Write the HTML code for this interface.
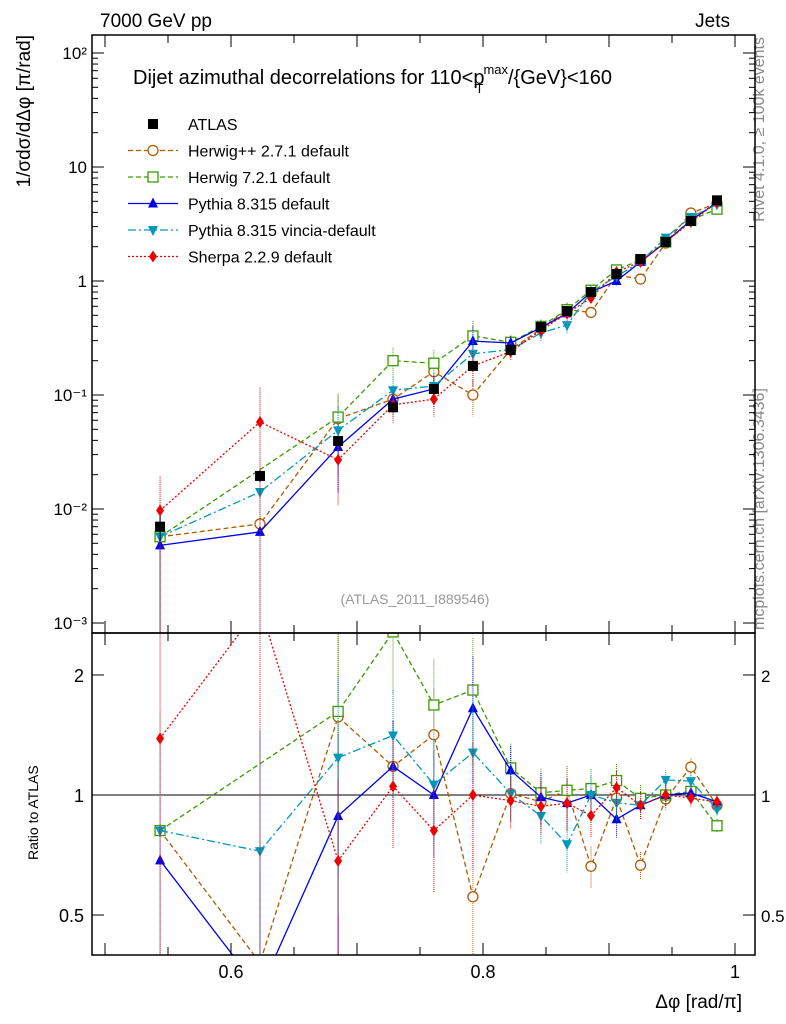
<!DOCTYPE html>
<html><head><meta charset="utf-8">
<style>
html,body{margin:0;padding:0;background:#fff;overflow:hidden;width:786px;height:1024px;}
svg{display:block;font-family:"Liberation Sans",Arial,sans-serif;}
</style></head>
<body>
<svg id="chart" width="786" height="1024" viewBox="0 0 786 1024" xmlns="http://www.w3.org/2000/svg" overflow="hidden">
<defs>
<clipPath id="clipMain"><rect x="92" y="35" width="663" height="598"/></clipPath>
<clipPath id="clipRatio"><rect x="92" y="633" width="663" height="322"/></clipPath>
</defs>
<text x="100" y="27" font-size="19">7000 GeV pp</text>
<text x="730" y="27" font-size="19" text-anchor="end">Jets</text>
<text transform="translate(764,37) rotate(-90)" font-size="16" fill="#888" text-anchor="end">Rivet 4.1.0, ≥ 100k events</text>
<text transform="translate(764,630) rotate(-90)" font-size="16" fill="#888">mcplots.cern.ch [arXiv:1306.3436]</text>
<g id="main"></g>
<g id="ratio"></g>
<g id="frames"></g>
</svg>
<script>
const xVals = [0.5437,0.623,0.685,0.7286,0.761,0.792,0.822,0.846,0.8667,0.8857,0.906,0.925,0.945,0.965,0.9857];
const atlas = [0.0070,0.0195,0.0395,0.078,0.113,0.18,0.248,0.395,0.545,0.80,1.15,1.56,2.2,3.36,5.1];
const atlasErr = [0.25,0.12,0.08,0.08,0.08,0.07,0.06,0.06,0.05,0.05,0.05,0.05,0.05,0.05,0.05];
const herwigpp = [0.0057,0.0074,0.062,0.092,0.16,0.10,0.25,0.38,0.56,0.53,1.13,1.04,2.15,3.95,4.8];
const herwig7 = [0.0057,null,0.064,0.20,0.19,0.33,0.29,0.40,0.56,0.83,1.25,1.53,2.2,3.43,4.27];
const pythia = [0.0048,0.0063,0.035,0.092,0.113,0.297,0.286,0.39,0.52,0.80,1.0,1.47,2.2,3.4,4.9];
const vincia = [0.0057,0.0141,0.049,0.11,0.12,0.23,0.25,0.35,0.41,0.80,1.1,1.47,2.4,3.64,4.7];
const sherpa = [0.0097,0.058,0.027,0.082,0.092,0.18,0.24,0.37,0.52,0.71,1.2,1.47,2.2,3.3,4.9];
const mcErr = [1.0,1.0,0.6,0.3,0.3,0.35,0.15,0.15,0.15,0.12,0.1,0.08,0.06,0.05,0.04];
const mainTicks = [[100,'10²'],[10,'10'],[1,'1'],[0.1,'10⁻¹'],[0.01,'10⁻²'],[0.001,'10⁻³']];
const ratioTicks = [[2,'2'],[1,'1'],[0.5,'0.5']];
const xTicks = [[0.6,'0.6'],[0.8,'0.8'],[1.0,'1']];

const NS='http://www.w3.org/2000/svg';
const L=92,R=755,MT=35,MB=633,RB=955;
const sx=v=>105+(v-0.5)*1260;
const sy=v=>281-Math.log10(v)*114;
const sr=v=>795-Math.log10(v)*398.7;
function mk(tag,attrs,parent){const e=document.createElementNS(NS,tag);for(const k in attrs)e.setAttribute(k,attrs[k]);parent.appendChild(e);return e;}
const gMain=document.getElementById('main'), gRatio=document.getElementById('ratio'), gF=document.getElementById('frames');
const cm=mk('g',{'clip-path':'url(#clipMain)'},gMain);
const cr=mk('g',{'clip-path':'url(#clipRatio)'},gRatio);

const rl=mk('line',{x1:L,x2:R,y1:sr(1),y2:sr(1),stroke:'#000','stroke-width':1},cr);



function marker(g,type,x,y,c){
  let e;
  if(type==='circle')e=mk('circle',{cx:x,cy:y,r:5,fill:'#fff',stroke:c,'stroke-width':1.3},g);
  else if(type==='osq')e=mk('rect',{x:x-5,y:y-5,width:10,height:10,fill:'#fff',stroke:c,'stroke-width':1.3},g);
  else if(type==='sq')e=mk('rect',{x:x-5,y:y-5,width:10,height:10,fill:c},g);
  else if(type==='tu')e=mk('polygon',{points:`${x},${y-6} ${x-5},${y+4} ${x+5},${y+4}`,fill:c},g);
  else if(type==='td')e=mk('polygon',{points:`${x},${y+6} ${x-5},${y-4} ${x+5},${y-4}`,fill:c},g);
  else e=mk('polygon',{points:`${x},${y-6} ${x-4},${y} ${x},${y+6} ${x+4},${y}`,fill:c},g);
  return e;
}
const series=[
 {name:'herwigpp',label:'Herwig++ 2.7.1 default',vals:herwigpp,c:'#b35a00',dash:'5,3',m:'circle'},
 {name:'herwig7',label:'Herwig 7.2.1 default',vals:herwig7,c:'#3a9a00',dash:'5,3',m:'osq'},
 {name:'pythia',label:'Pythia 8.315 default',vals:pythia,c:'#0000ee',dash:'',m:'tu'},
 {name:'vincia',label:'Pythia 8.315 vincia-default',vals:vincia,c:'#0099bb',dash:'8,3,2,3',m:'td'},
 {name:'sherpa',label:'Sherpa 2.2.9 default',vals:sherpa,c:'#ee0000',dash:'2,2',m:'dia'}
];
series.forEach((s)=>{
  const g=mk('g',{},cm);  
  const gr=mk('g',{},cr);  
  let pm=[],pr=[];
  s.vals.forEach((v,i)=>{ if(v==null)return;
    const x=sx(xVals[i]), r=v/atlas[i], e=mcErr[i];
    pm.push(x+','+sy(v)); pr.push(x+','+sr(r));
    mk('line',{x1:x,x2:x,y1:sy(v*(1+e)),y2:sy(Math.max(v*(1-e),1e-6)),stroke:s.c,'stroke-width':1,'stroke-dasharray':'1,1'},g);
    mk('line',{x1:x,x2:x,y1:sr(r*(1+e)),y2:sr(Math.max(r*(1-e),1e-6)),stroke:s.c,'stroke-width':1,'stroke-dasharray':'1,1'},gr);
  });
  const pl=mk('polyline',{points:pm.join(' '),fill:'none',stroke:s.c,'stroke-width':1.3,'stroke-dasharray':s.dash},g);
   
  const plr=mk('polyline',{points:pr.join(' '),fill:'none',stroke:s.c,'stroke-width':1.3,'stroke-dasharray':s.dash},gr);
   
  s.vals.forEach((v,i)=>{ if(v==null)return;
    const m=marker(g,s.m,sx(xVals[i]),sy(v),s.c);
     
    const m2=marker(gr,s.m,sx(xVals[i]),sr(v/atlas[i]),s.c);
     
  });
});
const ga=mk('g',{},cm);  
atlas.forEach((v,i)=>{const x=sx(xVals[i]);
  mk('line',{x1:x,x2:x,y1:sy(v*(1+atlasErr[i])),y2:sy(v*(1-atlasErr[i])),stroke:'#000'},ga);
  const m=marker(ga,'sq',x,sy(v),'#000');
   
});

mk('rect',{x:L,y:MT,width:R-L,height:MB-MT,fill:'none',stroke:'#000','stroke-width':1.5},gF);
mk('rect',{x:L,y:MB,width:R-L,height:RB-MB,fill:'none',stroke:'#000','stroke-width':1.5},gF);
mainTicks.forEach(([v,t])=>{const y=sy(v);
  mk('line',{x1:L,x2:L+12,y1:y,y2:y,stroke:'#000'},gF);mk('line',{x1:R,x2:R-12,y1:y,y2:y,stroke:'#000'},gF);
  const tx=mk('text',{x:L-5,y:y+6,'font-size':17,'text-anchor':'end'},gF);tx.textContent=t;
   
  for(let k=2;k<10;k++){const yy=sy(v*k); if(yy>MT&&yy<MB){mk('line',{x1:L,x2:L+6,y1:yy,y2:yy,stroke:'#000'},gF);mk('line',{x1:R,x2:R-6,y1:yy,y2:yy,stroke:'#000'},gF);}}
});
ratioTicks.forEach(([v,t])=>{const y=sr(v);
  mk('line',{x1:L,x2:L+12,y1:y,y2:y,stroke:'#000'},gF);mk('line',{x1:R,x2:R-12,y1:y,y2:y,stroke:'#000'},gF);
  const tx=mk('text',{x:L-8,y:y+7,'font-size':18,'text-anchor':'end'},gF);tx.textContent=t;
   
  const tx2=mk('text',{x:R+6,y:y+7,'font-size':17},gF);tx2.textContent=t;
   
});
for(let k=10;k<=20;k++){const v=k*0.05;const x=sx(v);const h=(k%2===0)?12:8;
  [MT,MB].forEach(y0=>mk('line',{x1:x,x2:x,y1:y0,y2:y0+h,stroke:'#000'},gF));
  [MB,RB].forEach(y0=>mk('line',{x1:x,x2:x,y1:y0,y2:y0-h,stroke:'#000'},gF));}
xTicks.forEach(([v,t])=>{const tx=mk('text',{x:sx(v),y:RB+23,'font-size':18,'text-anchor':'middle'},gF);tx.textContent=t;
   });
const xl=mk('text',{x:742,y:1008,'font-size':19,'text-anchor':'end'},gF);xl.textContent='Δφ [rad/π]';
 
const yl=mk('text',{transform:'translate(30,35) rotate(-90)','font-size':19,'text-anchor':'end'},gF);yl.textContent='1/σdσ/dΔφ [π/rad]';
 
const yl2=mk('text',{transform:'translate(38,860) rotate(-90)','font-size':14},gF);yl2.textContent='Ratio to ATLAS';
 
const ttl=mk('text',{x:133,y:84,'font-size':20},gF);ttl.innerHTML='Dijet azimuthal decorrelations for 110&lt;p<tspan font-size="13" dy="9" dx="-9">T</tspan><tspan font-size="13" dy="-19">max</tspan><tspan dy="10">/{GeV}&lt;160</tspan>';
 
const an=mk('text',{x:415,y:604,'font-size':14,fill:'#999','text-anchor':'middle'},gF);an.textContent='(ATLAS_2011_I889546)';
 
const lg=mk('g',{},gF);  
const ent=[{label:'ATLAS',m:'sq',c:'#000',dash:null}].concat(series);
ent.forEach((s,i)=>{const y=124+i*26.5;
  const eg=mk('g',{},lg);  
  if(s.dash!==null)mk('line',{x1:128,x2:178,y1:y,y2:y,stroke:s.c,'stroke-width':1.3,'stroke-dasharray':s.dash},eg);
  marker(eg,s.m,153,y,s.c);
  const t=mk('text',{x:188,y:y+6,'font-size':16},eg);t.textContent=s.label;
});
</script>
</body></html>
